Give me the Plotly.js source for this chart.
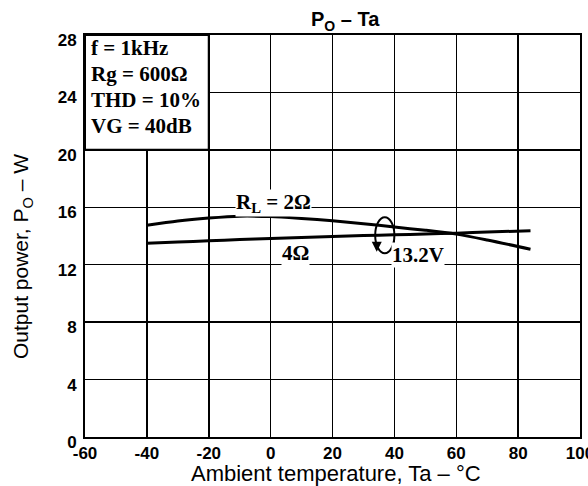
<!DOCTYPE html>
<html>
<head>
<meta charset="utf-8">
<script src="https://cdn.plot.ly/plotly-3.0.1.min.js"></script>
<style>html,body{margin:0;padding:0;background:#fff;}#chart{width:588px;height:486px;}</style>
</head>
<body>
<div id="chart"></div>
<script>
// Ambient temperature (°C)
const ta = [-40, -30, -20, -10, 0, 10, 20, 30, 40, 50, 60, 70, 84];
// Output power (W), RL = 2 Ω
const po2ohm = [14.75, 15.05, 15.25, 15.38, 15.35, 15.22, 15.06, 14.86, 14.62, 14.4, 14.13, 13.72, 13.08];
// Output power (W), RL = 4 Ω
const po4ohm = [13.5, 13.58, 13.67, 13.75, 13.83, 13.9, 13.97, 14.03, 14.08, 14.14, 14.2, 14.27, 14.37];
const xTicks = [-60, -40, -20, 0, 20, 40, 60, 80, 100];
const yTicks = [0, 4, 8, 12, 16, 20, 24, 28];
const conditions = ["f = 1kHz", "Rg = 600Ω", "THD = 10%", "VG = 40dB"];

const lineStyle = {color: "#000", width: 3, shape: "spline", smoothing: 0.8};
const traces = [
  {x: ta, y: po2ohm, mode: "lines", line: lineStyle, name: "RL=2Ω", showlegend: false, hoverinfo: "skip"},
  {x: ta, y: po4ohm, mode: "lines", line: lineStyle, name: "4Ω", showlegend: false, hoverinfo: "skip"}
];

const serif = {family: "Liberation Serif, DejaVu Serif, serif", size: 21, color: "#000", weight: "bold"};
const sans = "Liberation Sans, Arial, sans-serif";
const annotations = [
  {x: 1, y: 16.3, xref: "x", yref: "y", text: "R<sub>L</sub> = 2Ω", showarrow: false, font: serif, bgcolor: "#fff", borderpad: 0},
  {x: 8, y: 12.85, xref: "x", yref: "y", text: "4Ω", showarrow: false, font: serif, bgcolor: "#fff", borderpad: 0},
  {x: 47.5, y: 12.7, xref: "x", yref: "y", text: "13.2V", showarrow: false, font: serif, bgcolor: "#fff", borderpad: 0},
  {x: 34.3, y: 12.9, xref: "x", yref: "y", ax: 0, ay: -9, showarrow: true, arrowhead: 2, arrowsize: 1,
   arrowwidth: 2, arrowcolor: "#000", text: ""},
  {x: -0.127, y: 0.448, xref: "paper", yref: "paper", xanchor: "center", yanchor: "middle", textangle: -90, showarrow: false,
   text: "Output power, P<sub>O</sub> – W", font: {family: sans, size: 21, color: "#000"}},
  {x: 0.507, y: -0.09, xref: "paper", yref: "paper", xanchor: "center", yanchor: "middle", showarrow: false,
   text: "Ambient temperature, Ta – °C", font: {family: sans, size: 22, color: "#000"}}
];
// condition text lines
conditions.forEach((t, i) => {
  annotations.push({x: -58.6, y: 27.1 - i * 1.82, xref: "x", yref: "y", xanchor: "left", yanchor: "middle",
    text: t, showarrow: false, font: serif});
});

const layout = {
  width: 588, height: 486,
  margin: {l: 85, r: 8, t: 35, b: 49},
  paper_bgcolor: "#fff", plot_bgcolor: "#fff",
  title: {text: "<b>P<sub>O</sub> – Ta</b>", x: 0.587, xanchor: "center", y: 0.96, yanchor: "middle",
          font: {family: sans, size: 20, color: "#000"}},
  xaxis: {
    range: [-60, 100], tickvals: xTicks, ticktext: xTicks.map(String),
    showgrid: true, gridcolor: "#000", gridwidth: 1.5, zeroline: false,
    showline: true, linecolor: "#000", linewidth: 2, mirror: true, ticks: "",
    ticklabeloverflow: "allow",
    tickfont: {family: sans, size: 17, color: "#000", weight: "bold"},
    fixedrange: true
  },
  yaxis: {
    range: [0, 28], tickvals: yTicks, ticktext: yTicks.map(String),
    showgrid: true, gridcolor: "#000", gridwidth: 1.5, zeroline: false,
    showline: true, linecolor: "#000", linewidth: 2, mirror: true, ticks: "",
    ticklabelshift: 5, ticklabelstandoff: 3,
    tickfont: {family: sans, size: 17, color: "#000", weight: "bold"},
    fixedrange: true
  },
  shapes: [
    {type: "rect", xref: "x", yref: "y", x0: -60, x1: -20, y0: 20, y1: 28, fillcolor: "#fff",
     line: {color: "#000", width: 2}, layer: "above"},
    {type: "circle", xref: "x", yref: "y", x0: 33.8, x1: 40, y0: 12.8, y1: 15.3,
     line: {color: "#000", width: 2}, layer: "above"}
  ],
  annotations: annotations,
  showlegend: false
};

Plotly.newPlot("chart", traces, layout, {staticPlot: true, displayModeBar: false});
</script>
</body>
</html>
